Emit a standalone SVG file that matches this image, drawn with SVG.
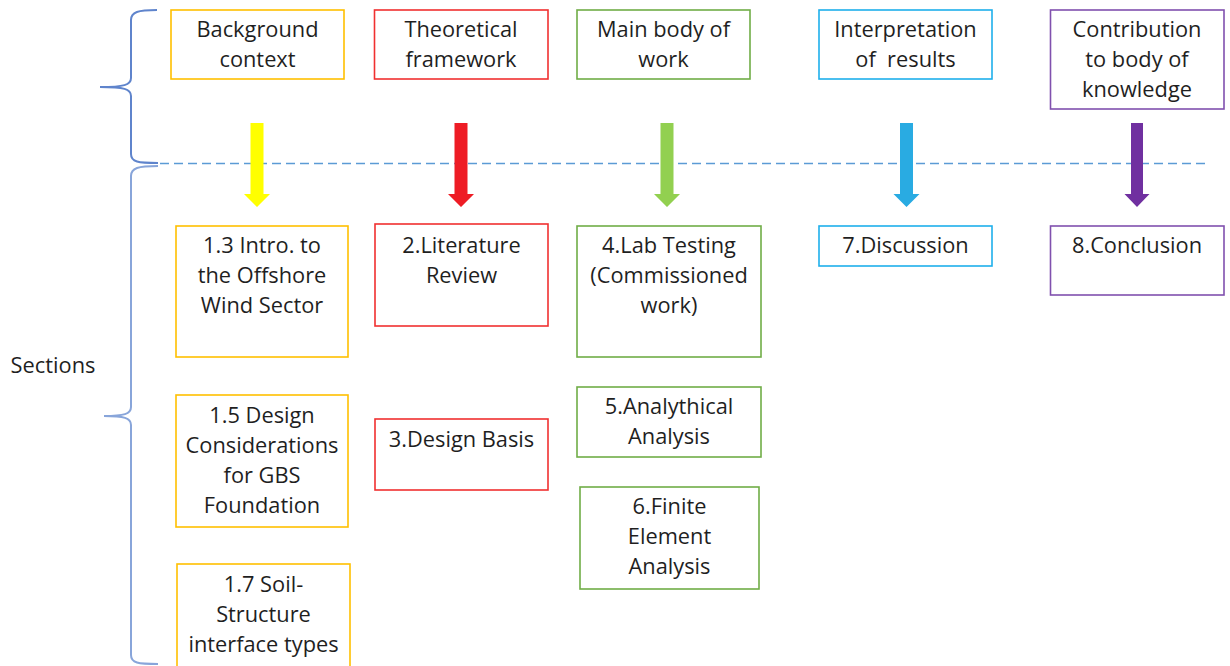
<svg xmlns="http://www.w3.org/2000/svg" width="1230" height="666" viewBox="0 0 1230 666">
<style>
text{font-family:"Open Sans","Liberation Sans",sans-serif;font-size:21.8px;fill:#1f1f1f;text-anchor:middle}
.box{fill:#fff;stroke-width:1.6}
.y{stroke:#FFC000}.r{stroke:#F03030}.g{stroke:#70AD47}.b{stroke:#1FB0EC}.p{stroke:#8050AE}
.brace{fill:none;stroke:#5F84CC;stroke-width:2}
</style>
<rect width="1230" height="666" fill="#fff"/>
<g id="braces">
<path class="brace" d="M157,10 C138,10 131,12 131,20 L131,78 C131,85 124,87 100,87 C124,87 131,89 131,96 L131,154 C131,162 138,163 158,163"/>
<path class="brace" style="stroke:#88A5DA" d="M158,166 C138,166 131,168 131,176 L131,407 C131,414 124,416 104,416 C124,416 131,418 131,425 L131,655 C131,663 138,664 158,664"/>
</g>
<g id="divider"><line x1="160" y1="163.5" x2="1210" y2="163.5" stroke="#5B9BD5" stroke-width="1.4" stroke-dasharray="9,5"/></g>
<g id="sections"><text x="53" y="373">Sections</text></g>

<g id="n-background"><rect class="box y" x="171" y="10" width="173" height="69"/><text x="257.5" y="37">Background</text><text x="257.5" y="67">context</text></g>
<g id="n-theoretical"><rect class="box r" x="374.5" y="10" width="173.5" height="69"/><text x="461" y="37">Theoretical</text><text x="461" y="67">framework</text></g>
<g id="n-mainbody"><rect class="box g" x="577" y="10" width="173" height="69"/><text x="663.5" y="37">Main body of</text><text x="663.5" y="67">work</text></g>
<g id="n-interpretation"><rect class="box b" x="819" y="10" width="173" height="69"/><text x="905.5" y="37">Interpretation</text><text x="905.5" y="67" xml:space="preserve">of  results</text></g>
<g id="n-contribution"><rect class="box p" x="1050.5" y="10" width="173.5" height="99"/><text x="1137" y="37">Contribution</text><text x="1137" y="67">to body of</text><text x="1137" y="97">knowledge</text></g>

<g id="connectors">
<polygon fill="#FFFF00" points="250.5,123 263.5,123 263.5,194 270,194 257,207 244,194 250.5,194"/>
<polygon fill="#EE1C25" points="454.5,123 467.5,123 467.5,194 474,194 461,207 448,194 454.5,194"/>
<polygon fill="#92D050" points="660.5,123 673.5,123 673.5,194 680,194 667,207 654,194 660.5,194"/>
<polygon fill="#29ABE2" points="900,123 913,123 913,194 919.5,194 906.5,207 893.5,194 900,194"/>
<polygon fill="#7030A0" points="1131,123 1143,123 1143,194 1149.5,194 1137,207 1124.5,194 1131,194"/>
</g>

<g id="n-1-3"><rect class="box y" x="176" y="226" width="172" height="131"/><text x="262" y="253">1.3 Intro. to</text><text x="262" y="283">the Offshore</text><text x="262" y="313">Wind Sector</text></g>
<g id="n-1-5"><rect class="box y" x="176" y="395" width="172" height="132"/><text x="262" y="423">1.5 Design</text><text x="262" y="453">Considerations</text><text x="262" y="483">for GBS</text><text x="262" y="513">Foundation</text></g>
<g id="n-1-7"><rect class="box y" x="177" y="564" width="173" height="110"/><text x="263.5" y="592">1.7 Soil-</text><text x="263.5" y="622">Structure</text><text x="263.5" y="652">interface types</text></g>
<g id="n-2"><rect class="box r" x="375" y="224" width="173" height="102"/><text x="461.5" y="253">2.Literature</text><text x="461.5" y="283">Review</text></g>
<g id="n-3"><rect class="box r" x="375" y="419" width="173" height="71"/><text x="461.5" y="447">3.Design Basis</text></g>
<g id="n-4"><rect class="box g" x="577" y="226" width="184" height="131"/><text x="669" y="253">4.Lab Testing</text><text x="669" y="283">(Commissioned</text><text x="669" y="313">work)</text></g>
<g id="n-5"><rect class="box g" x="577" y="387" width="184" height="70"/><text x="669" y="414">5.Analythical</text><text x="669" y="444">Analysis</text></g>
<g id="n-6"><rect class="box g" x="580" y="487" width="179" height="102"/><text x="669.5" y="514">6.Finite</text><text x="669.5" y="544">Element</text><text x="669.5" y="574">Analysis</text></g>
<g id="n-7"><rect class="box b" x="819" y="226" width="173" height="40"/><text x="905.5" y="253">7.Discussion</text></g>
<g id="n-8"><rect class="box p" x="1050.5" y="226" width="173.5" height="69"/><text x="1137" y="253">8.Conclusion</text></g>
</svg>
